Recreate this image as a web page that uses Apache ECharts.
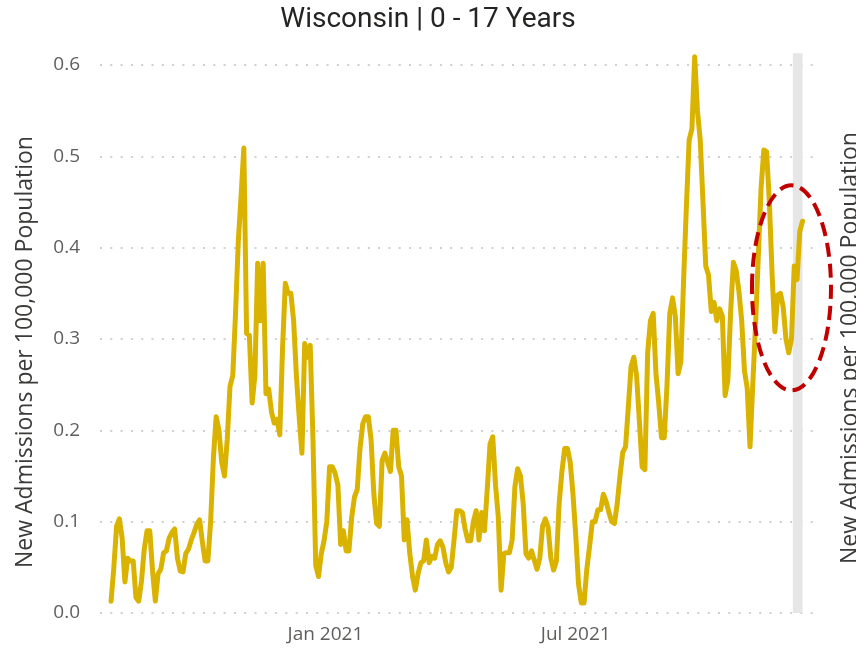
<!DOCTYPE html>
<html>
<head>
<meta charset="utf-8">
<script src="https://cdn.jsdelivr.net/npm/echarts@6/dist/echarts.min.js"></script>
<style>
html,body{margin:0;padding:0;background:#fff;}
#chart{width:856px;height:650px;}
</style>
</head>
<body>
<div id="chart"></div>
<script>
// ---- data ----
const titleText = 'Wisconsin | 0 - 17 Years';
const yAxisTitle = 'New Admissions per 100,000 Population';
const startDate = [2020, 6, 30];   // 30 Jul 2020 (year, monthIndex, day)
const stepDays = 2;
const admissions = [
0.013,0.05,0.095,0.103,0.082,0.034,0.06,0.057,0.057,0.017,
0.013,0.035,0.07,0.09,0.09,0.046,0.013,0.043,0.048,0.066,
0.068,0.082,0.088,0.092,0.06,0.046,0.045,0.065,0.07,0.08,
0.088,0.097,0.102,0.078,0.057,0.057,0.1,0.17,0.215,0.2,
0.165,0.15,0.19,0.248,0.26,0.328,0.407,0.456,0.509,0.306,
0.304,0.23,0.26,0.383,0.32,0.383,0.24,0.245,0.22,0.208,
0.212,0.195,0.29,0.361,0.35,0.35,0.32,0.26,0.215,0.175,
0.295,0.28,0.293,0.19,0.052,0.04,0.065,0.079,0.1,0.16,
0.16,0.153,0.14,0.075,0.09,0.068,0.068,0.105,0.127,0.135,
0.18,0.207,0.215,0.215,0.19,0.13,0.098,0.095,0.167,0.175,
0.165,0.155,0.2,0.2,0.16,0.15,0.08,0.102,0.065,0.04,
0.025,0.043,0.055,0.057,0.08,0.055,0.062,0.06,0.075,0.079,
0.072,0.055,0.045,0.05,0.08,0.112,0.112,0.11,0.092,0.079,
0.079,0.1,0.112,0.08,0.11,0.09,0.135,0.185,0.193,0.14,
0.105,0.025,0.065,0.066,0.066,0.08,0.138,0.158,0.15,0.12,
0.065,0.06,0.068,0.058,0.048,0.06,0.095,0.103,0.094,0.06,
0.047,0.057,0.12,0.155,0.18,0.18,0.165,0.13,0.085,0.032,
0.011,0.011,0.048,0.073,0.1,0.1,0.113,0.113,0.13,0.122,
0.11,0.1,0.098,0.12,0.15,0.176,0.182,0.225,0.27,0.28,
0.26,0.21,0.16,0.157,0.285,0.32,0.328,0.262,0.23,0.192,
0.192,0.25,0.328,0.345,0.325,0.262,0.275,0.365,0.445,0.518,
0.53,0.609,0.55,0.518,0.45,0.38,0.37,0.33,0.34,0.32,
0.333,0.325,0.238,0.255,0.33,0.384,0.375,0.352,0.32,0.265,
0.246,0.182,0.25,0.315,0.39,0.465,0.507,0.505,0.45,0.37,
0.308,0.348,0.35,0.335,0.3,0.285,0.3,0.38,0.365,0.418,
0.429
];
const xAxisMin = [2020, 6, 22];
const xAxisMax = [2021, 11, 21];
const xTickDates = [[2021, 0, 1], [2021, 6, 1]];
const xTickLabels = ['Jan 2021', 'Jul 2021'];
const yTicks = [0, 0.1, 0.2, 0.3, 0.4, 0.5, 0.6];
const bandRange = [[2021, 11, 5], [2021, 11, 12]];   // shaded latest-week band
const highlightCenter = [[2021, 11, 4], 0.356];      // dashed ellipse centre

// ---- build ----
function ts(a){ return new Date(a[0], a[1], a[2]).getTime(); }
const seriesData = admissions.map(function(v, i){
  return [new Date(startDate[0], startDate[1], startDate[2] + i * stepDays).getTime(), v];
});
const tickMap = {};
xTickDates.forEach(function(d, i){ tickMap[ts(d)] = xTickLabels[i]; });

const chart = echarts.init(document.getElementById('chart'), null, {renderer: 'canvas'});
const option = {
  animation: false,
  backgroundColor: '#ffffff',
  title: {
    text: titleText,
    left: 'center',
    top: 1,
    textStyle: {fontFamily: 'Roboto, sans-serif', fontSize: 28, fontWeight: 'normal', color: '#252423'}
  },
  grid: {left: 100, right: 41, top: 65, bottom: 37, containLabel: false},
  xAxis: {
    type: 'time',
    min: ts(xAxisMin),
    max: ts(xAxisMax),
    axisLine: {show: false},
    axisTick: {show: false},
    splitLine: {show: false},
    axisLabel: {
      color: '#605E5C',
      fontFamily: 'Open Sans, sans-serif',
      fontSize: 19,
      margin: 12,
      hideOverlap: false,
      formatter: function(val){ return tickMap[val] || ''; }
    }
  },
  yAxis: {
    type: 'value',
    min: yTicks[0],
    max: yTicks[yTicks.length - 1],
    interval: 0.1,
    name: yAxisTitle,
    nameLocation: 'middle',
    nameGap: 63,
    nameTextStyle: {fontFamily: 'Open Sans, sans-serif', fontSize: 23, color: '#3b3a39', padding: [0, 26, 0, 0]},
    axisLine: {show: false},
    axisTick: {show: false},
    axisLabel: {
      color: '#605E5C', fontFamily: 'Open Sans, sans-serif', fontSize: 19, margin: 20,
      formatter: function(v){ return v.toFixed(1); }
    },
    splitLine: {show: true, lineStyle: {color: '#cfcfcf', width: 2, type: [2, 8.3]}}
  },
  series: [{
    type: 'line',
    data: seriesData,
    showSymbol: false,
    clip: false,
    z: 5,
    lineStyle: {color: '#D9B300', width: 5, join: 'round', cap: 'round'},
    itemStyle: {color: '#D9B300'}
  }]
};
chart.setOption(option);

function drawOverlays(){
  const p0 = chart.convertToPixel({gridIndex: 0}, [ts(bandRange[0]), 0]);
  const p1 = chart.convertToPixel({gridIndex: 0}, [ts(bandRange[1]), 0.613]);
  const c = chart.convertToPixel({gridIndex: 0}, [ts(highlightCenter[0]), highlightCenter[1]]);
  chart.setOption({
    graphic: [
      {type: 'rect', z: 1, silent: true,
       shape: {x: p0[0], y: p1[1], width: p1[0] - p0[0], height: p0[1] - p1[1]},
       style: {fill: '#e6e6e6'}},
      {type: 'ellipse', z: 100, silent: true,
       shape: {cx: c[0], cy: c[1], rx: 39.5, ry: 102.5},
       style: {fill: 'none', stroke: '#C00000', lineWidth: 4, lineDash: [14, 7]}},
      {type: 'text', z: 100, silent: true, rotation: Math.PI / 2,
       x: 850, y: 348,
       style: {text: yAxisTitle, fontFamily: 'Open Sans, sans-serif', fontSize: 23, fill: '#3b3a39',
               align: 'center', verticalAlign: 'middle'}}
    ]
  });
}
drawOverlays();
</script>
</body>
</html>
